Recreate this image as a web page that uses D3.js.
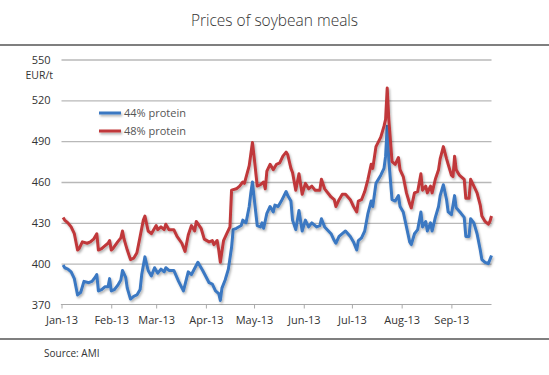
<!DOCTYPE html>
<html><head><meta charset="utf-8">
<script src="https://cdn.jsdelivr.net/npm/d3@7"></script>
<style>
html,body{margin:0;padding:0;background:#fff;}
svg{display:block;font-family:"Open Sans","Noto Sans",sans-serif;}
</style></head>
<body>
<svg id="c" width="549" height="375"></svg>
<script>
const title = "Prices of soybean meals";
const unitLabel = "EUR/t";
const sourceText = "Source: AMI";
const seriesNames = ["44% protein", "48% protein"];
const yTicks = [370, 400, 430, 460, 490, 520, 550];
const monthTicks = ["2013-01-01","2013-02-01","2013-03-01","2013-04-01","2013-05-01","2013-06-01","2013-07-01","2013-08-01","2013-09-01"];
const monthLabels = ["Jan-13","Feb-13","Mar-13","Apr-13","May-13","Jun-13","Jul-13","Aug-13","Sep-13"];

const dates44 = ["01-02","01-03","01-05","01-07","01-09","01-11","01-13","01-15","01-18","01-20","01-22","01-23","01-24","01-26","01-28","01-30","01-31",
"02-01","02-03","02-05","02-07","02-08","02-10","02-11","02-13","02-15","02-17","02-19","02-20","02-22","02-24","02-26","02-28",
"03-02","03-04","03-06","03-07","03-09","03-12","03-15","03-18","03-21","03-23","03-27","03-30",
"04-03","04-05","04-07","04-09","04-10","04-11","04-13","04-15","04-17","04-18","04-20","04-23","04-24","04-26","04-28","04-29","04-30",
"05-01","05-03","05-05","05-06","05-07","05-09","05-11","05-13","05-14","05-16","05-18","05-21","05-22","05-24","05-25","05-27","05-29","05-31",
"06-02","06-04","06-06","06-09","06-11","06-12","06-14","06-18","06-20","06-21","06-23","06-25","06-27","06-30",
"07-02","07-04","07-05","07-07","07-09","07-11","07-13","07-14","07-16","07-19","07-21","07-22","07-23","07-24","07-26","07-28","07-30","07-31",
"08-02","08-04","08-06","08-07","08-09","08-11","08-13","08-14","08-16","08-17","08-19","08-20","08-22","08-24","08-25","08-27","08-29","08-30",
"09-01","09-03","09-04","09-07","09-09","09-10","09-12","09-13","09-15","09-17","09-19","09-20","09-22","09-24","09-25","09-26"];
const price44 = [399,397,396,394,389,377,379,387,386,387,390,392,380,381,383,383,389,
380,381,384,388,395,390,382,374,376,377,381,392,405,395,391,397,
393,396,394,397,395,395,387,380,394,392,401,395,
386,385,380,378,373,382,388,396,412,425,426,428,432,430,442,452,460,
449,428,427,430,426,437,442,438,443,442,446,453,450,446,432,425,439,424,
432,427,430,427,428,433,427,422,417,415,420,422,424,420,
416,410,417,419,424,437,446,442,459,465,470,479,501,476,447,446,450,442,
438,427,416,414,422,425,438,427,431,424,430,424,434,442,450,458,447,438,
436,450,441,437,434,420,420,433,430,422,410,403,401,400,403,406];

const dates48 = ["01-02","01-03","01-05","01-07","01-09","01-11","01-12","01-14","01-17","01-19","01-21","01-23","01-24","01-26","01-28","01-30","01-31",
"02-01","02-02","02-05","02-07","02-08","02-09","02-11","02-13","02-15","02-17","02-19","02-21","02-22","02-24","02-26",
"03-01","03-02","03-04","03-06","03-07","03-09","03-12","03-14","03-17","03-19","03-21","03-23","03-25","03-26","03-29","03-31",
"04-03","04-05","04-06","04-08","04-09","04-10","04-12","04-14","04-16","04-17","04-20","04-22","04-24","04-25","04-28","04-30",
"05-01","05-03","05-05","05-07","05-08","05-09","05-11","05-13","05-15","05-17","05-19","05-21","05-22","05-24","05-25","05-27","05-29","05-31",
"06-02","06-04","06-06","06-08","06-11","06-12","06-14","06-18","06-20","06-21","06-23","06-25","06-27","06-30",
"07-02","07-04","07-05","07-07","07-09","07-11","07-13","07-14","07-16","07-19","07-21","07-22","07-23","07-24","07-26","07-28","07-30","07-31",
"08-02","08-04","08-06","08-07","08-09","08-11","08-13","08-14","08-16","08-17","08-19","08-20","08-22","08-24","08-25","08-27","08-29","08-30",
"09-01","09-02","09-03","09-04","09-06","09-07","09-09","09-10","09-12","09-13","09-15","09-17","09-19","09-20","09-22","09-24","09-25","09-26"];
const price48 = [434,432,430,427,422,410,411,416,415,416,418,422,410,411,413,415,417,
410,411,416,419,424,418,410,403,404,408,420,432,435,424,422,
428,425,427,425,429,425,425,420,415,409,421,428,424,431,426,418,
416,417,414,417,410,401,417,422,427,454,455,457,460,459,472,489,
479,457,458,460,455,468,473,469,473,474,479,482,480,470,467,454,466,451,
459,455,457,454,454,462,455,449,447,442,447,451,451,447,
442,438,446,447,453,462,473,470,486,493,501,506,529,506,475,473,478,469,
464,452,444,441,452,453,466,454,457,452,457,452,462,469,477,486,477,473,
465,464,479,469,465,464,462,448,448,462,457,452,443,435,431,429,431,435];

const parse = d3.timeParse("%Y-%m-%d");
const mk = (ds, vs) => ds.map((d,i)=>({date: parse("2013-"+d), value: vs[i]}));
const series = [
  {name: seriesNames[0], color: "#3b78c2", data: mk(dates44, price44)},
  {name: seriesNames[1], color: "#c0393a", data: mk(dates48, price48)}
];

const svg = d3.select("#c");
const W = 549, H = 375;
const x = d3.scaleTime().domain([parse("2013-01-01"), parse("2013-09-26")]).range([61.5, 491.5]);
const y = d3.scaleLinear().domain([370, 550]).range([304.5, 59.5]);

// title
svg.append("text").attr("x", 274.5).attr("y", 26).attr("text-anchor","middle")
  .attr("font-size", 15.5).attr("fill","#333").attr("font-weight", 300).text(title);
// rules
svg.append("line").attr("x1",0).attr("x2",W).attr("y1",45).attr("y2",45).attr("stroke","#555").attr("stroke-width",1.5);
svg.append("line").attr("x1",0).attr("x2",W).attr("y1",339).attr("y2",339).attr("stroke","#555").attr("stroke-width",1.5);
svg.append("text").attr("x",44).attr("y",357).attr("font-size",10).attr("fill","#333").text(sourceText);

// gridlines
const yAxis = d3.axisLeft(y).tickValues(yTicks).tickSize(-(x.range()[1]-x.range()[0])).tickPadding(11);
const gy = svg.append("g").attr("transform",`translate(${x.range()[0]},0)`).call(yAxis);
gy.select(".domain").remove();
gy.selectAll(".tick line").attr("stroke","#b8b8b8").attr("stroke-width",1.3)
  .filter(d=>d===370).remove();
gy.selectAll(".tick text").attr("font-size",11).attr("fill","#333").attr("font-family","'Open Sans',sans-serif");

svg.append("text").attr("x",53).attr("y",79).attr("text-anchor","end").attr("font-size",10.5).attr("fill","#333").text(unitLabel);

// x axis
const xAxis = d3.axisBottom(x).tickValues(monthTicks.map(parse)).tickSize(4).tickPadding(8)
  .tickFormat((d,i)=>monthLabels[i]);
const gx = svg.append("g").attr("transform",`translate(0,${y(370)})`).call(xAxis);
gx.select(".domain").attr("stroke","#aaa").attr("stroke-width",1.2).attr("d", `M${x.range()[0]},0.5V0H${x.range()[1]}`);
gx.selectAll(".tick line").attr("stroke","#aaa");
gx.selectAll(".tick text").attr("font-size",11).attr("fill","#333").attr("font-family","'Open Sans',sans-serif");

// shadow filter (user space so that flat legend lines still render)
const defs = svg.append("defs");
const f = defs.append("filter").attr("id","sh").attr("filterUnits","userSpaceOnUse")
  .attr("x",0).attr("y",0).attr("width",W).attr("height",H);
f.append("feDropShadow").attr("dx",1.2).attr("dy",1.8).attr("stdDeviation",1).attr("flood-color","#000").attr("flood-opacity",0.3);

const line = d3.line().x(d=>x(d.date)).y(d=>y(d.value)).curve(d3.curveLinear);
svg.append("g").selectAll("path").data(series).join("path")
  .attr("d", d=>line(d.data)).attr("fill","none").attr("stroke", d=>d.color)
  .attr("stroke-width",3).attr("stroke-linejoin","round").attr("filter","url(#sh)");

// legend
const lg = svg.append("g").selectAll("g").data(series).join("g");
lg.append("line").attr("x1",99).attr("x2",121)
  .attr("y1",(d,i)=>113 + i*18).attr("y2",(d,i)=>113 + i*18)
  .attr("stroke",d=>d.color).attr("stroke-width",3).attr("filter","url(#sh)");
lg.append("text").attr("x",124).attr("y",(d,i)=>117 + i*18).attr("font-size",11).attr("fill","#555").text(d=>d.name);
</script>
</body></html>
